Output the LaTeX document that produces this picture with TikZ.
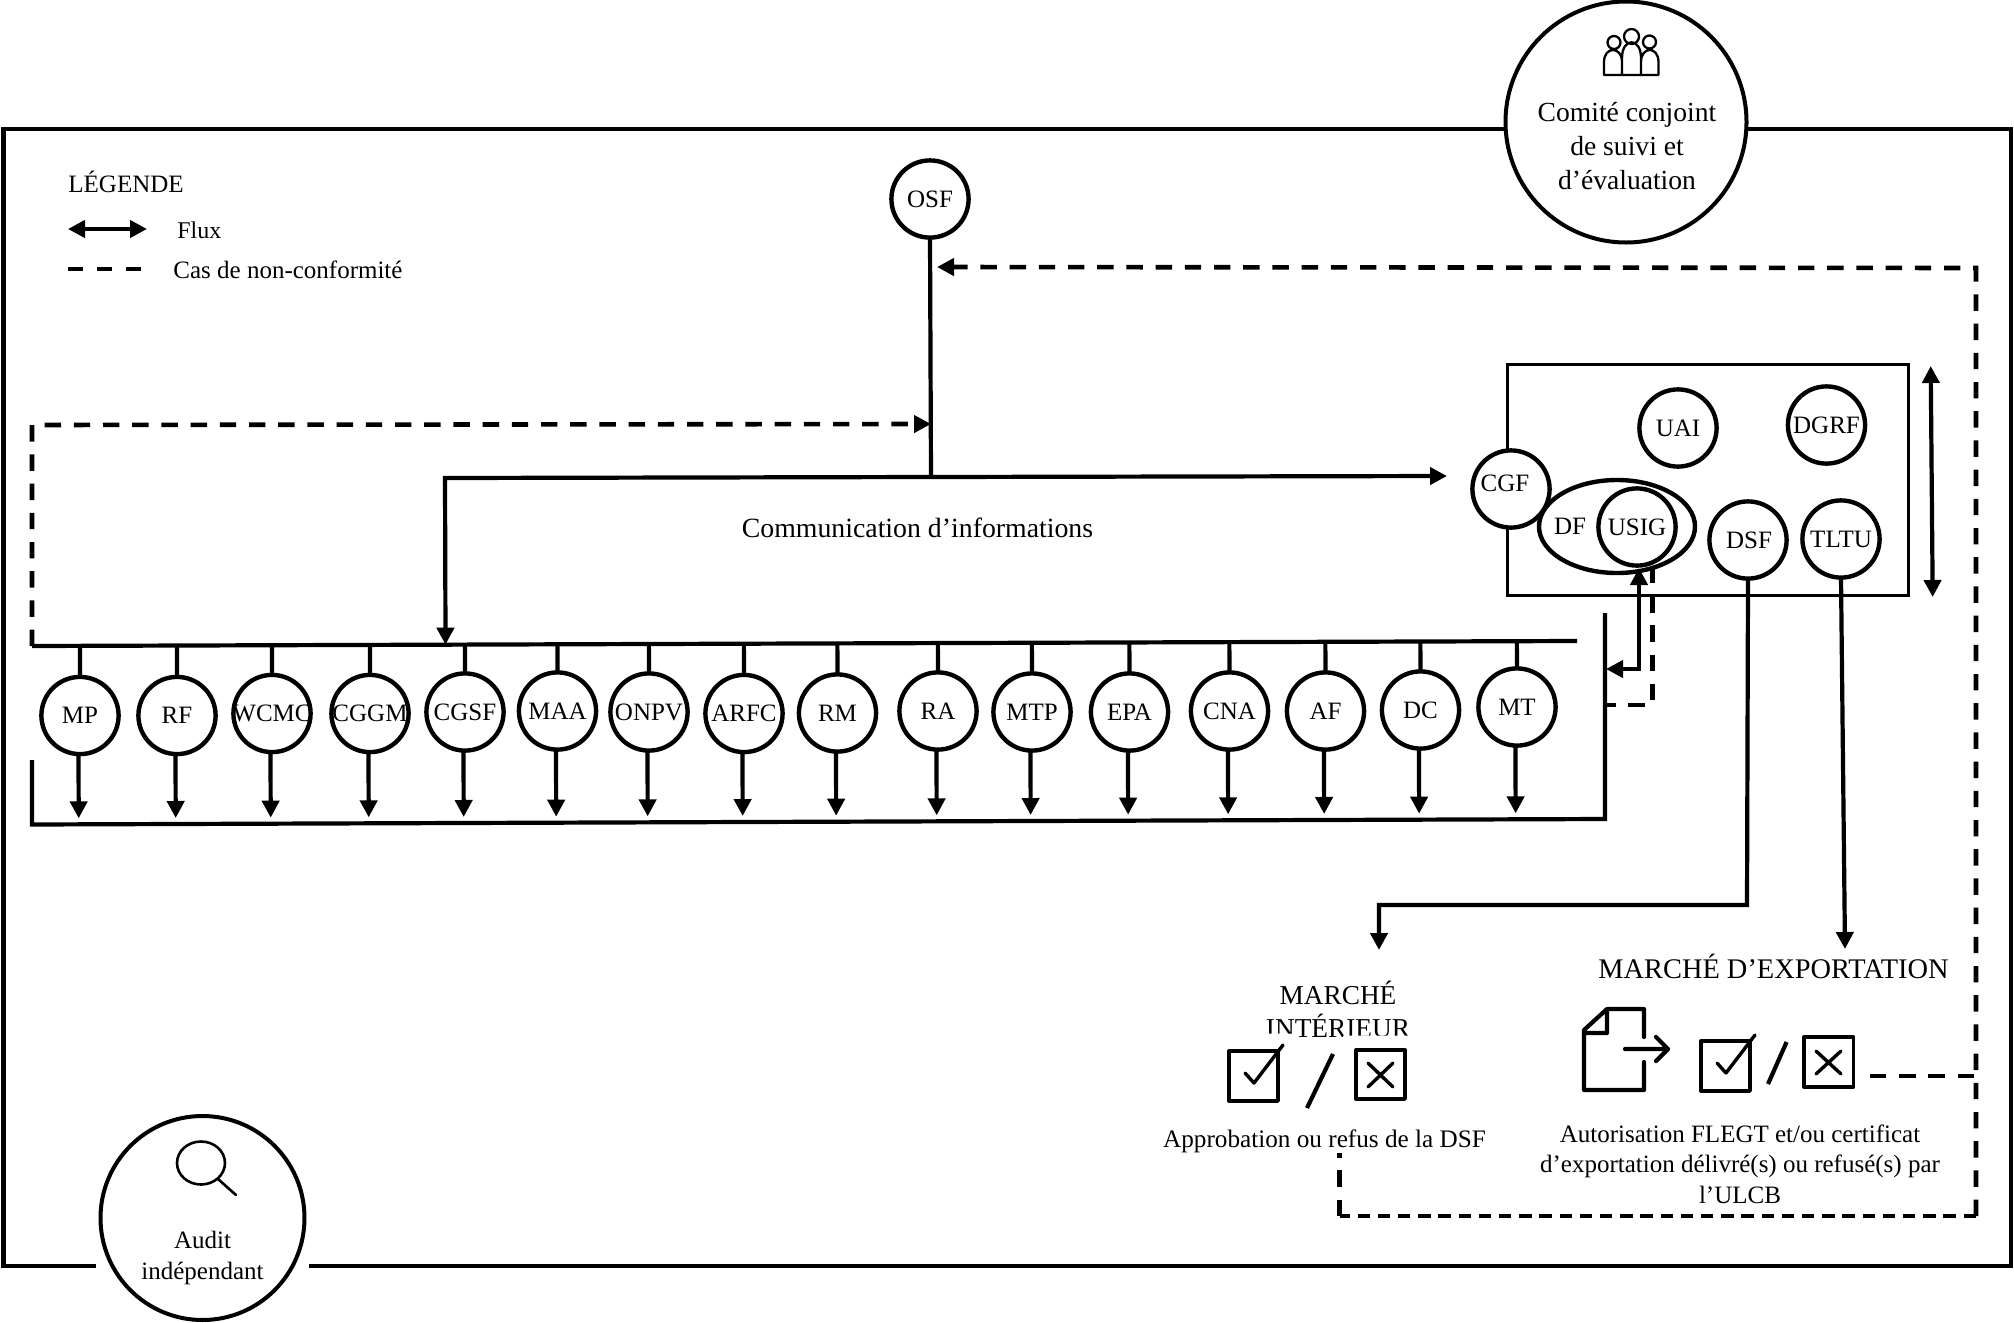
\documentclass[tikz,border=0pt]{standalone}
\usepackage{fontspec}
\setmainfont{Liberation Serif}
\usetikzlibrary{arrows.meta,calc,shapes.geometric}

% Centred label of zero size inside a ring: x shift, y shift, text
\newcommand\ringtext[3]{\makebox[0pt]{\kern#1\raisebox{\dimexpr-4pt+#2\relax}[0pt][0pt]{#3}\kern-#1}}

\tikzset{
  heavy/.style={line width=2.1pt},
  flow/.style={heavy,-{Triangle[length=8.5pt,width=8.5pt]}},
  twoway/.style={heavy,{Triangle[length=8.5pt,width=8.5pt]}-{Triangle[length=8.5pt,width=8.5pt]}},
  noncomp/.style={line width=2.3pt,dash pattern=on 8.2pt off 6.4pt},
  noncompfine/.style={line width=2.3pt,dash pattern=on 6.2pt off 3.9pt},
  noncomptip/.style={noncomp,-{Triangle[length=8.5pt,width=8.5pt]}},
  ring/.style={circle,draw,fill=white,line width=2.2pt,minimum size=38.6pt,inner sep=0pt,outer sep=0pt,
    font=\fontsize{12.5pt}{14pt}\selectfont},
  bigring/.style={circle,draw,fill=white,line width=2pt,inner sep=0pt,outer sep=0pt},
  caption/.style={anchor=base,inner sep=0pt,font=\fontsize{#1}{#1}\selectfont},
  block/.style n args={2}{align=center,inner sep=0pt,font=\fontsize{#1}{#2}\selectfont},
  glyph/.style={line width=1.7pt,line cap=round,line join=round},
  thinglyph/.style={line width=1.15pt,line join=round},
}

\begin{document}
\begin{tikzpicture}[x=0.5pt,y=-0.5pt]
\useasboundingbox (0,0) rectangle (2014,1323);

% Outer frame, open at the bottom around the audit disc
\coordinate (frameA) at (96,1266);
\coordinate (frameB) at (3.5,1266);
\coordinate (frameC) at (3.5,129);
\coordinate (frameD) at (2011,129);
\coordinate (frameE) at (2011,1266);
\coordinate (frameF) at (309,1266);
\draw[heavy,line join=miter] (frameA) -- (frameB) -- (frameC) -- (frameD) -- (frameE) -- (frameF);

% Joint committee disc with its people icon
\node[bigring,minimum size=120.5pt] (comite) at (1626,122) {};
\draw[thinglyph]
  (1604,75) -- (1604,62) .. controls (1604,46) and (1622,46) .. (1622,62) -- (1622,75) -- cycle
  (1622,62) -- (1622,58) .. controls (1622,37) and (1641,37) .. (1641,58) -- (1641,75) -- (1622,75)
  (1641,62) .. controls (1641,46) and (1658.5,46) .. (1658.5,62) -- (1658.5,75) -- (1641,75)
  (1614,42.5) circle[radius=6.5]
  (1631.5,36.5) circle[radius=7.5]
  (1649.5,42) circle[radius=6.5];
\node[block={13.8pt}{17pt}] (comitetext) at (1627,146)
  {Comité conjoint\\de suivi et\\d’évaluation};

% Independent audit disc with its magnifier icon
\node[bigring,minimum size=102pt] (audit) at (202.5,1218) {};
\draw[line width=1.3pt,line cap=round] (201,1163) ellipse[x radius=24,y radius=21.5]
  (218,1179) -- (236,1195);
\node[block={12.5pt}{15.5pt}] (audittext) at (202.5,1258) {Audit\\indépendant};

% Legend
\node[caption=12.5pt,anchor=base west] (legendtitle) at (68,192) {LÉGENDE};
\coordinate (fluxA) at (68,229);
\coordinate (fluxB) at (147,229);
\draw[twoway] (fluxA) -- (fluxB);
\node[caption=12pt,anchor=base west] (fluxtext) at (177,238) {Flux};
\coordinate (dashA) at (68,269);
\coordinate (dashB) at (141,269);
\draw[line width=2.4pt,dash pattern=on 7.5pt off 7pt] (dashA) -- (dashB);
\node[caption=12.5pt,anchor=base west] (dashtext) at (173,278) {Cas de non-conformité};

% Forest observer and the information line
\node[ring] (osf) at (930,199) {\ringtext{0pt}{0pt}{OSF}};
\coordinate (osfjoin) at (931,477);
\coordinate (infoleft) at (445,478);
\coordinate (inforight) at (1447,476);
\draw[heavy] (osf.south) -- (osfjoin);
\node[caption=13.9pt] (infotext) at (917.5,537) {Communication d’informations};

% Two buses serving the row of agencies
\coordinate (busTL) at (32,646);
\coordinate (busTR) at (1577,641);
\coordinate (busBL) at (32,824.5);
\coordinate (busBR) at (1605,819);
\coordinate (busBstart) at (32,760);
\coordinate (busBtop) at (1605,613);
\draw[heavy,line join=miter] (busTL) -- (busTR);
\draw[heavy,line join=miter] (busBstart) -- (busBL) -- (busBR) -- (busBtop);

% Row of agencies hanging between the buses
\foreach \name/\label/\cx/\cy in {
  mp/MP/80/715.5, rf/RF/177/715.5, wcmc/WCMC/272/713.5, cggm/CGGM/370/713.5,
  cgsf/CGSF/465/712, maa/MAA/557.5/711, onpv/ONPV/649/712, arfc/ARFC/744/713.5,
  rm/RM/837.5/713, ra/RA/938/711, mtp/MTP/1032/712, epa/EPA/1129.5/712,
  cna/CNA/1229.5/711, af/AF/1325.5/711, dc/DC/1420.5/710, mt/MT/1517/707}{
  \node[ring] (\name) at (\cx,\cy) {\ringtext{0pt}{0pt}{\label}};
  \draw[heavy] (\name.north) -- ($(busTL)!(\name.north)!(busTR)$);
  \draw[flow,shorten >=3pt] ([xshift=-0.75pt]\name.south) -- ([xshift=-0.75pt]$(busBL)!(\name.south)!(busBR)$);
}

% Information line down to the top bus and across to the CGF
\draw[flow,line join=miter] (osfjoin) -- (infoleft) -- ($(busTL)!(infoleft)!(busTR)$);
\draw[flow] (osfjoin) -- (inforight);

% Non-conformity line from the top bus up to the OSF line
\coordinate (nctl) at (32,425);
\coordinate (nctip) at (931,424);
\draw[noncomptip,line join=miter] (busTL) -- (nctl) -- (nctip);

% Administration box and its members
\node[draw,line width=1.4pt,minimum width=200.3pt,minimum height=115.5pt,inner sep=0pt,outer sep=0pt]
  (admin) at (1707.9,480.2) {};
\node[ellipse,draw,fill=white,line width=2.2pt,minimum width=78pt,minimum height=46.5pt,inner sep=0pt,outer sep=0pt,
  font=\fontsize{12.5pt}{14pt}\selectfont] (df) at (1617,526.5) {\ringtext{-23.5pt}{0pt}{DF}};
\node[ring] (cgf) at (1511,489) {\ringtext{-3pt}{3pt}{CGF}};
\node[ring] (uai) at (1678,428) {\ringtext{0pt}{0pt}{UAI}};
\node[ring] (dgrf) at (1826.5,425) {\ringtext{0pt}{0pt}{DGRF}};
\node[ring] (usig) at (1637,527) {\ringtext{0pt}{0pt}{USIG}};
\node[ring] (dsf) at (1748,540) {\ringtext{0.5pt}{0pt}{DSF}};
\node[ring] (tltu) at (1841,539) {\ringtext{0pt}{0pt}{TLTU}};

% Arrow beside the box
\coordinate (sideA) at (1930.7,366);
\coordinate (sideB) at (1932.7,597);
\draw[twoway] (sideA) -- (sideB);

% Exchange between USIG and the lower bus
\coordinate (usigknee) at (1639,669);
\coordinate (usigbus) at (1606,669);
\coordinate (usigtop) at (1639,568);
\draw[twoway,line join=miter] (usigtop) -- (usigknee) -- (usigbus);
\coordinate (ncusigtop) at (1652.7,567);
\coordinate (ncusigknee) at (1652.7,705);
\coordinate (ncusigbus) at (1607,705);
\draw[noncomp,line join=miter] (ncusigtop) -- (ncusigknee) -- (ncusigbus);

% Outgoing lines to the two markets
\coordinate (dsfknee) at (1747,905);
\coordinate (dsfturn) at (1379,905);
\coordinate (domtip) at (1379,950);
\draw[flow,line join=miter] (dsf.south) -- (dsfknee) -- (dsfturn) -- (domtip);
\coordinate (exptip) at (1845,949);
\draw[flow] (tltu.south) -- (exptip);

% Domestic market: title, with the lower edge of its second line masked by the icons
\node[block={13.65pt}{16.5pt}] (domtitle) at (1338,1009.5) {MARCHÉ\\INTÉRIEUR};
\fill[white] (1262,1033.5) rectangle (1296,1050) (1343,1035.5) rectangle (1412,1050);

% Domestic market: accepted / refused icons
\draw[glyph,line cap=butt] (1229,1051) rectangle (1278,1101);
\draw[glyph] (1245,1073) -- (1254,1083) -- (1283,1045);
\draw[line width=2.1pt,line cap=butt] (1333,1054) -- (1307,1108);
\draw[glyph,line cap=butt] (1356,1050) rectangle (1405,1099);
\draw[glyph] (1368,1063) -- (1393,1087) (1393,1063) -- (1368,1087);
\node[caption=12.6pt] (domtext) at (1324.5,1147) {Approbation ou refus de la DSF};

% Export market: title, document icon and accepted / refused icons
\node[caption=14.2pt] (exptitle) at (1773.5,978) {MARCHÉ D’EXPORTATION};
\draw[line width=2.1pt,line cap=round,line join=round] (1644,1037) -- (1644,1009) -- (1607,1009) -- (1584,1030) -- (1584,1090) -- (1644,1090) -- (1644,1062)
  (1607,1009) -- (1607,1033) -- (1584,1033)
  (1625,1049) -- (1668,1049) (1656,1037) -- (1668,1049) -- (1656,1061);
\draw[glyph,line cap=butt] (1701,1041) rectangle (1750,1091);
\draw[glyph] (1717,1063) -- (1726,1073) -- (1755,1035);
\draw[line width=2.1pt,line cap=butt] (1786.6,1042) -- (1768,1084);
\draw[glyph,line cap=butt] (1804,1037) rectangle (1853.5,1087);
\draw[glyph] (1816,1051) -- (1841,1074) (1841,1051) -- (1816,1074);
\node[block={12.5pt}{15.25pt}] (exptext) at (1740,1164)
  {Autorisation FLEGT et/ou certificat\\d’exportation délivré(s) ou refusé(s) par\\l’ULCB};

% Non-conformity return path from both markets to the OSF
\coordinate (rettop) at (1976,268);
\coordinate (retbottom) at (1976,1216);
\coordinate (retjoin) at (1976,1076);
\coordinate (retstub) at (1870,1076);
\coordinate (retleft) at (1339.5,1216);
\coordinate (retend) at (1339.5,1153);
\coordinate (osftip) at (937,267);
\draw[noncomptip,line join=miter] (retbottom) -- (rettop) -- (osftip);
\draw[noncomp] (retstub) -- (retjoin);
\draw[noncompfine,line join=miter] (retbottom) -- (retleft);
\draw[noncomp,line join=miter] (retleft) -- (retend);
\end{tikzpicture}
\end{document}
